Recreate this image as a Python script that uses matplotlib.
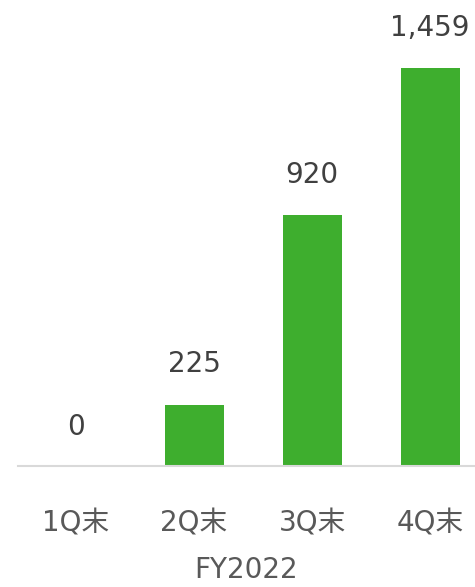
import matplotlib.pyplot as plt

plt.rcParams['font.family'] = ['DejaVu Sans', 'Noto Sans CJK JP']
plt.rcParams['font.size'] = 20

# データ
categories = ['1Q末', '2Q末', '3Q末', '4Q末']
values = [0, 225, 920, 1459]
value_labels = ['0', '225', '920', '1,459']
group_label = 'FY2022'

fig = plt.figure(figsize=(4.75, 5.87), dpi=100)
ax = fig.add_axes([18 / 475, 121 / 587, 457 / 475, 466 / 587])

x = list(range(len(categories)))
ax.bar(x, values, width=0.5, color='#3EAE2E')

ax.set_xlim(-0.4915, 3.381)
ax.set_ylim(0, 1708)

# 値ラベル
for xi, v, lab in zip(x, values, value_labels):
    ax.annotate(lab, (xi, v), xytext=(0, 29 if v else 28), textcoords='offset points',
                ha='center', va='center', color='#404040', fontsize=20)

# 軸
for s in ['top', 'right', 'left']:
    ax.spines[s].set_visible(False)
ax.spines['bottom'].set_color('#D9D9D9')
ax.spines['bottom'].set_linewidth(1.5)
ax.set_yticks([])
ax.set_xticks(x)
ax.set_xticklabels(categories, color='#595959', fontsize=20)
ax.tick_params(axis='x', length=0, pad=31)
ax.set_xlabel(group_label, color='#595959', fontsize=20, labelpad=14)

plt.savefig('out.png', dpi=100)
